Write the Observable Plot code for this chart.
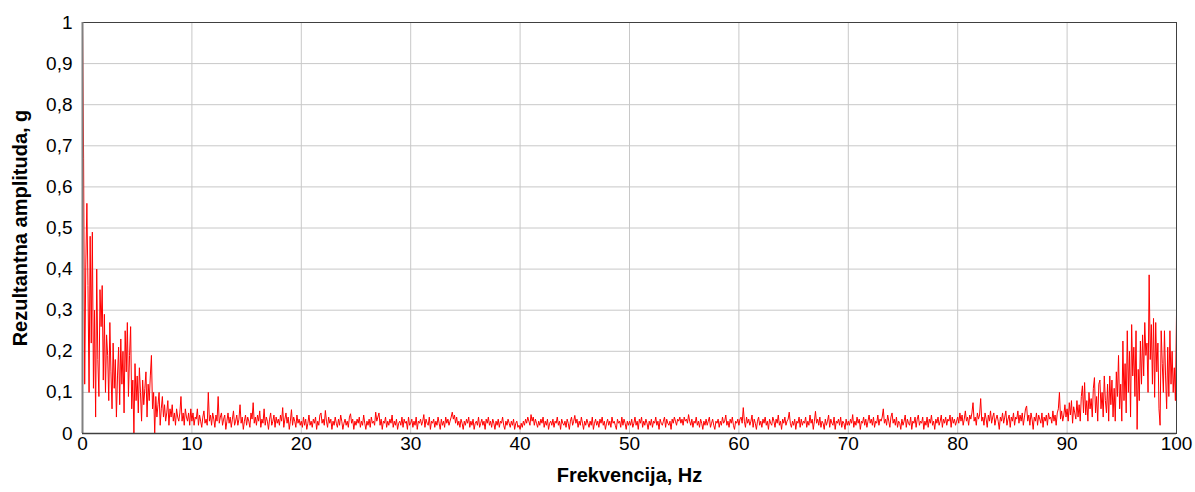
<!DOCTYPE html>
<html>
<head>
<meta charset="utf-8">
<script src="https://cdn.jsdelivr.net/npm/d3@7"></script>
<script src="https://cdn.jsdelivr.net/npm/@observablehq/plot@0.6"></script>
<style>
  html, body { margin: 0; padding: 0; background: #fff; }
  #chart { width: 1195px; height: 492px; }
</style>
</head>
<body>
<div id="chart"></div>
<script>
// Frequency resolution of the spectrum (Hz per bin)
const binWidth = 0.1;

// Resultant amplitude (g), one array per 10 Hz band
const amp00 = [1.00,0.67,0.12,0.41,0.56,0.36,0.10,0.48,0.22,0.49,
  0.11,0.30,0.04,0.40,0.18,0.09,0.35,0.26,0.36,0.13,
  0.29,0.10,0.24,0.19,0.08,0.27,0.15,0.06,0.22,0.11,
  0.18,0.04,0.14,0.21,0.07,0.23,0.12,0.20,0.05,0.25,
  0.15,0.27,0.09,0.19,0.26,0.06,0.13,0.00,0.17,0.08,
  0.14,0.05,0.16,0.10,0.03,0.13,0.07,0.11,0.15,0.04,
  0.12,0.08,0.14,0.19,0.06,0.10,0.00,0.09,0.04,0.07,
  0.10,0.02,0.06,0.09,0.04,0.07,0.03,0.05,0.08,0.02,
  0.06,0.04,0.07,0.03,0.05,0.02,0.06,0.04,0.03,0.05,
  0.09,0.03,0.05,0.02,0.06,0.04,0.03,0.05,0.02,0.06];
const amp10 = [0.03,0.05,0.02,0.04,0.035,0.06,0.02,0.045,0.03,0.015,
  0.04,0.055,0.025,0.035,0.02,0.10,0.03,0.045,0.02,0.05,
  0.035,0.015,0.045,0.03,0.09,0.025,0.04,0.05,0.02,0.035,
  0.045,0.01,0.03,0.05,0.025,0.04,0.015,0.035,0.055,0.02,
  0.03,0.045,0.02,0.035,0.07,0.025,0.04,0.01,0.03,0.045,
  0.02,0.04,0.03,0.015,0.05,0.035,0.075,0.025,0.04,0.02,
  0.045,0.03,0.055,0.015,0.035,0.025,0.06,0.02,0.04,0.03,
  0.01,0.035,0.05,0.02,0.03,0.045,0.015,0.04,0.025,0.035,
  0.02,0.045,0.03,0.063,0.015,0.035,0.05,0.025,0.04,0.01,
  0.03,0.058,0.02,0.04,0.03,0.015,0.045,0.025,0.035,0.02];
const amp20 = [0.03,0.015,0.04,0.02,0.035,0.01,0.025,0.045,0.02,0.03,
  0.015,0.035,0.025,0.04,0.01,0.03,0.02,0.045,0.05,0.025,
  0.035,0.02,0.056,0.03,0.015,0.04,0.025,0.035,0.01,0.03,
  0.02,0.04,0.025,0.015,0.035,0.02,0.045,0.03,0.01,0.025,
  0.035,0.02,0.03,0.015,0.04,0.048,0.025,0.035,0.01,0.03,
  0.02,0.035,0.025,0.04,0.015,0.03,0.02,0.045,0.025,0.01,
  0.03,0.02,0.035,0.015,0.04,0.025,0.03,0.02,0.052,0.03,
  0.04,0.05,0.02,0.035,0.01,0.03,0.025,0.04,0.015,0.03,
  0.02,0.035,0.025,0.045,0.015,0.03,0.02,0.035,0.01,0.025,
  0.03,0.02,0.04,0.015,0.035,0.025,0.03,0.01,0.04,0.02];
const amp30 = [0.025,0.035,0.015,0.03,0.02,0.04,0.01,0.03,0.025,0.035,
  0.02,0.03,0.046,0.015,0.035,0.025,0.02,0.04,0.01,0.03,
  0.025,0.035,0.015,0.03,0.02,0.04,0.025,0.01,0.035,0.02,
  0.03,0.015,0.04,0.025,0.035,0.02,0.03,0.04,0.052,0.035,
  0.045,0.025,0.04,0.02,0.03,0.015,0.035,0.025,0.01,0.03,
  0.02,0.035,0.025,0.04,0.015,0.03,0.02,0.035,0.01,0.025,
  0.03,0.02,0.04,0.015,0.025,0.035,0.02,0.03,0.01,0.035,
  0.025,0.04,0.02,0.03,0.015,0.035,0.025,0.01,0.03,0.02,
  0.035,0.015,0.03,0.025,0.04,0.02,0.01,0.03,0.02,0.035,
  0.025,0.015,0.03,0.02,0.035,0.01,0.025,0.03,0.015,0.02];
const amp40 = [0.01,0.025,0.015,0.03,0.02,0.035,0.025,0.04,0.03,0.02,
  0.046,0.03,0.04,0.02,0.035,0.025,0.015,0.03,0.02,0.035,
  0.025,0.04,0.015,0.03,0.02,0.035,0.01,0.025,0.03,0.02,
  0.035,0.015,0.03,0.025,0.04,0.02,0.03,0.01,0.035,0.025,
  0.02,0.03,0.015,0.035,0.025,0.01,0.03,0.04,0.02,0.03,
  0.044,0.025,0.035,0.015,0.03,0.02,0.04,0.025,0.01,0.03,
  0.02,0.035,0.025,0.015,0.03,0.02,0.04,0.01,0.025,0.035,
  0.02,0.03,0.015,0.035,0.025,0.04,0.02,0.03,0.01,0.025,
  0.035,0.02,0.03,0.015,0.04,0.025,0.03,0.02,0.01,0.035,
  0.025,0.03,0.015,0.04,0.02,0.035,0.025,0.01,0.03,0.02];
const amp50 = [0.03,0.02,0.035,0.015,0.025,0.04,0.02,0.03,0.01,0.035,
  0.025,0.04,0.015,0.03,0.02,0.035,0.025,0.01,0.03,0.02,
  0.035,0.015,0.03,0.025,0.04,0.02,0.03,0.01,0.035,0.025,
  0.02,0.03,0.04,0.015,0.035,0.025,0.02,0.03,0.01,0.035,
  0.025,0.04,0.03,0.02,0.035,0.03,0.04,0.025,0.035,0.02,
  0.04,0.03,0.035,0.025,0.046,0.03,0.02,0.035,0.015,0.03,
  0.025,0.04,0.02,0.03,0.015,0.035,0.025,0.01,0.03,0.02,
  0.035,0.02,0.03,0.04,0.015,0.025,0.035,0.02,0.01,0.03,
  0.025,0.035,0.015,0.03,0.02,0.04,0.025,0.03,0.045,0.02,
  0.03,0.015,0.035,0.025,0.04,0.02,0.01,0.03,0.025,0.035];
const amp60 = [0.02,0.035,0.04,0.025,0.063,0.03,0.015,0.04,0.025,0.035,
  0.02,0.03,0.045,0.015,0.035,0.025,0.01,0.03,0.04,0.02,
  0.03,0.015,0.035,0.025,0.04,0.02,0.03,0.01,0.035,0.025,
  0.02,0.04,0.03,0.015,0.035,0.025,0.045,0.02,0.03,0.01,
  0.035,0.025,0.04,0.02,0.03,0.035,0.052,0.025,0.015,0.03,
  0.02,0.035,0.01,0.03,0.025,0.04,0.015,0.035,0.02,0.03,
  0.025,0.04,0.015,0.03,0.02,0.045,0.025,0.035,0.01,0.03,
  0.054,0.025,0.035,0.02,0.04,0.015,0.03,0.025,0.01,0.035,
  0.02,0.03,0.045,0.015,0.035,0.025,0.02,0.04,0.01,0.03,
  0.025,0.035,0.02,0.04,0.015,0.03,0.025,0.01,0.035,0.02];
const amp70 = [0.03,0.02,0.035,0.025,0.046,0.015,0.03,0.02,0.04,0.025,
  0.035,0.01,0.03,0.025,0.04,0.02,0.035,0.015,0.03,0.045,
  0.025,0.035,0.02,0.04,0.015,0.03,0.025,0.045,0.02,0.035,
  0.03,0.04,0.06,0.025,0.035,0.02,0.045,0.03,0.015,0.04,
  0.05,0.025,0.035,0.02,0.04,0.015,0.03,0.025,0.01,0.035,
  0.02,0.03,0.045,0.015,0.035,0.025,0.02,0.04,0.01,0.03,
  0.025,0.04,0.015,0.035,0.045,0.02,0.03,0.025,0.04,0.01,
  0.03,0.02,0.04,0.015,0.035,0.025,0.045,0.02,0.03,0.01,
  0.035,0.025,0.04,0.02,0.03,0.045,0.015,0.035,0.025,0.04,
  0.02,0.035,0.03,0.045,0.015,0.04,0.025,0.035,0.02,0.03];
const amp80 = [0.04,0.025,0.05,0.03,0.045,0.02,0.035,0.055,0.03,0.04,
  0.02,0.045,0.035,0.05,0.075,0.03,0.04,0.02,0.05,0.035,
  0.045,0.085,0.03,0.04,0.02,0.05,0.035,0.015,0.045,0.03,
  0.055,0.025,0.04,0.05,0.02,0.035,0.045,0.03,0.01,0.04,
  0.03,0.05,0.025,0.04,0.055,0.02,0.035,0.045,0.015,0.04,
  0.03,0.05,0.02,0.04,0.035,0.055,0.025,0.045,0.03,0.05,
  0.02,0.04,0.06,0.067,0.03,0.045,0.02,0.05,0.035,0.01,
  0.04,0.03,0.05,0.02,0.045,0.035,0.025,0.05,0.015,0.04,
  0.03,0.045,0.02,0.05,0.035,0.04,0.025,0.055,0.03,0.045,
  0.02,0.05,0.06,0.10,0.035,0.055,0.03,0.045,0.07,0.04];
const amp90 = [0.06,0.03,0.075,0.045,0.08,0.025,0.065,0.05,0.035,0.08,
  0.04,0.07,0.03,0.09,0.116,0.05,0.124,0.045,0.08,0.03,
  0.10,0.06,0.085,0.04,0.11,0.136,0.05,0.09,0.03,0.12,
  0.13,0.06,0.10,0.04,0.14,0.08,0.05,0.12,0.03,0.14,
  0.07,0.13,0.04,0.11,0.03,0.15,0.09,0.19,0.06,0.12,
  0.03,0.225,0.08,0.17,0.05,0.25,0.10,0.20,0.04,0.265,
  0.14,0.21,0.09,0.25,0.01,0.156,0.08,0.225,0.12,0.24,
  0.14,0.27,0.19,0.22,0.10,0.386,0.18,0.265,0.12,0.28,
  0.088,0.27,0.15,0.22,0.06,0.02,0.25,0.17,0.10,0.25,
  0.14,0.06,0.21,0.09,0.25,0.12,0.20,0.10,0.16,0.08,
  0.29];

// Axis ticks and titles
const xTicks = [0,10,20,30,40,50,60,70,80,90,100];
const yTicks = [0,0.1,0.2,0.3,0.4,0.5,0.6,0.7,0.8,0.9,1];
const xTitle = "Frekvencija, Hz";
const yTitle = "Rezultantna amplituda, g";

const amps = [...amp00, ...amp10, ...amp20, ...amp30, ...amp40, ...amp50, ...amp60, ...amp70, ...amp80, ...amp90];
const data = amps.map((a, i) => ({f: +(i * binWidth).toFixed(1), a}));

const chart = Plot.plot({
  width: 1195,
  height: 492,
  marginLeft: 82,
  marginRight: 19,
  marginTop: 22,
  marginBottom: 59,
  style: {fontFamily: "'Liberation Sans', Arial, sans-serif", fontSize: "19px", background: "#fff", color: "#000", overflow: "visible"},
  x: {domain: [0, 100], label: null},
  y: {domain: [0, 1], label: null},
  marks: [
    Plot.gridX(xTicks, {stroke: "#c8c8c8", strokeOpacity: 1, strokeWidth: 1}),
    Plot.gridY(yTicks, {stroke: "#c8c8c8", strokeOpacity: 1, strokeWidth: 1}),
    Plot.axisX(xTicks, {tickSize: 0, tickPadding: 3, label: null, tickFormat: d => String(d), fill: "#000", fontSize: 19}),
    Plot.axisY(yTicks, {tickSize: 0, tickPadding: 10, label: null, tickFormat: d => String(d).replace(".", ","), fill: "#000", fontSize: 19}),
    Plot.lineY(data, {x: "f", y: "a", stroke: "#ff0000", strokeWidth: 1, clip: true}),
    Plot.frame({stroke: "#404040", strokeWidth: 1}),
    Plot.ruleX([0], {stroke: "#808080", strokeWidth: 2}),
    Plot.ruleY([0], {stroke: "#404040", strokeWidth: 1.5}),
    Plot.text([xTitle], {frameAnchor: "bottom", dy: 48, text: d => d, fontWeight: "bold", fontSize: 20}),
    Plot.text([yTitle], {frameAnchor: "left", dx: -62, rotate: -90, textAnchor: "middle", text: d => d, fontWeight: "bold", fontSize: 20})
  ]
});
document.getElementById("chart").appendChild(chart);
</script>
</body>
</html>
